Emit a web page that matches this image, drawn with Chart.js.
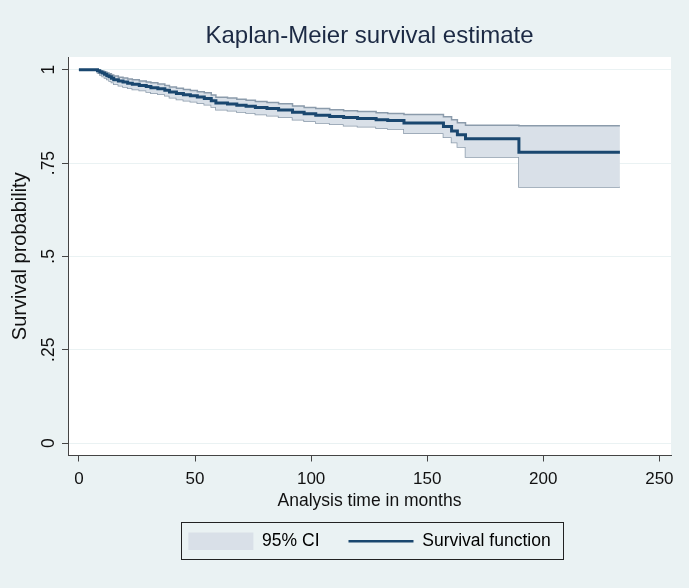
<!DOCTYPE html>
<html>
<head>
<meta charset="utf-8">
<title>Kaplan-Meier survival estimate</title>
<script src="https://cdn.jsdelivr.net/npm/chart.js@4.4.1/dist/chart.umd.min.js"></script>
<style>
  html, body { margin: 0; padding: 0; background: #eaf2f3; }
  canvas { display: block; }
</style>
</head>
<body>
<canvas id="kmChart" width="689" height="588"></canvas>
<script>
// analysis time (months) at each step of the curve
var months = [0, 8, 9, 10, 11, 12, 13, 14, 15, 17, 19, 21, 23, 26, 29, 31, 34, 37, 39,
  42, 45, 48, 51, 54, 57, 59, 64, 68, 72, 76, 81, 86, 92, 97, 102, 108, 114, 120, 128,
  133, 140, 157, 160.5, 163, 166.5, 189.5, 233];

var survival = [1, .997, .994, .991, .988, .984, .981, .977, .973, .970, .967, .964, .961,
  .958, .955, .952, .949, .945, .940, .936, .933, .930, .927, .923, .917, .911, .908, .905,
  .902, .899, .896, .892, .886, .882, .878, .875, .872, .869, .866, .864, .857, .848, .836,
  .826, .815, .779, .779];

var ciLower = [1, .991, .986, .982, .978, .974, .970, .966, .961, .957, .954, .950, .947,
  .944, .940, .937, .934, .930, .925, .920, .917, .914, .910, .906, .900, .893, .890, .887,
  .884, .880, .877, .873, .866, .862, .857, .854, .850, .847, .843, .841, .830, .819, .805,
  .793, .766, .686, .686];

var ciUpper = [1, .999, .997, .996, .994, .991, .989, .986, .983, .980, .978, .975, .973,
  .970, .967, .965, .962, .958, .954, .950, .947, .944, .941, .938, .932, .926, .924, .921,
  .918, .915, .912, .909, .903, .899, .896, .893, .890, .888, .885, .883, .880, .874, .866,
  .858, .851, .850, .850];

var xTicks = [0, 50, 100, 150, 200, 250];
var yTicks = [0, 0.25, 0.5, 0.75, 1];
var yTickLabels = ['0', '.25', '.5', '.75', '1'];
var legendLabels = ['95% CI', 'Survival function'];

var navy = '#1a476f';
var ciFill = '#d9e0e8';
var ciEdge = '#8b9bab';
var ink = '#111111';

function points(values) {
  return months.map(function (t, i) { return { x: t, y: values[i] }; });
}

Chart.defaults.font.family = "'Liberation Sans', Arial, Helvetica, sans-serif";
Chart.defaults.color = ink;

// grey page, white plot region
var backdrop = {
  id: 'backdrop',
  beforeDraw: function (chart) {
    var ctx = chart.ctx, a = chart.chartArea;
    ctx.save();
    ctx.fillStyle = '#eaf2f3';
    ctx.fillRect(0, 0, chart.width, chart.height);
    ctx.fillStyle = '#ffffff';
    ctx.fillRect(a.left, a.top, a.right - a.left, a.bottom - a.top);
    ctx.restore();
  }
};

// stata style box around the legend
var legendFrame = {
  id: 'legendFrame',
  afterDraw: function (chart) {
    var boxes = chart.legend.legendHitBoxes;
    if (!boxes || !boxes.length) return;
    var first = boxes[0], last = boxes[boxes.length - 1];
    var cy = first.top + first.height / 2;
    var ctx = chart.ctx;
    ctx.save();
    ctx.strokeStyle = '#222222';
    ctx.lineWidth = 1;
    ctx.strokeRect(Math.round(first.left - 7) + 0.5, Math.round(cy - 19) + 0.5,
      Math.round(last.left + last.width - first.left + 20), 37);
    ctx.restore();
  }
};

var ctx = document.getElementById('kmChart').getContext('2d');
var chart = new Chart(ctx, {
  type: 'line',
  data: {
    datasets: [{
      label: legendLabels[1],
      data: points(survival),
      stepped: true,
      borderColor: navy,
      borderWidth: 3,
      pointRadius: 0,
      fill: false
    }, {
      label: 'upper',
      data: points(ciUpper),
      stepped: true,
      borderColor: ciEdge,
      borderWidth: 1.5,
      backgroundColor: ciFill,
      pointRadius: 0,
      fill: '+1'
    }, {
      label: 'lower',
      data: points(ciLower),
      stepped: true,
      borderColor: ciEdge,
      borderWidth: 1.5,
      pointRadius: 0,
      fill: false
    }]
  },
  options: {
    responsive: false,
    animation: false,
    layout: { padding: { left: 8, right: 18, top: 0, bottom: 28 } },
    plugins: {
      tooltip: { enabled: false },
      title: {
        display: true,
        fullSize: false,
        text: 'Kaplan-Meier survival estimate',
        color: '#1c2a44',
        font: { size: 24, weight: 'normal' },
        padding: { top: 21.6, bottom: 6.6 }
      },
      legend: {
        position: 'bottom',
        fullSize: false,
        labels: {
          usePointStyle: true,
          pointStyleWidth: 65,
          boxHeight: 20,
          padding: 29,
          color: ink,
          font: { size: 17.5 },
          generateLabels: function () {
            return [{
              text: legendLabels[0],
              pointStyle: 'rect',
              fillStyle: ciFill,
              strokeStyle: ciFill,
              lineWidth: 0,
              datasetIndex: 1
            }, {
              text: legendLabels[1],
              pointStyle: 'line',
              fillStyle: navy,
              strokeStyle: navy,
              lineWidth: 2.5,
              datasetIndex: 0
            }];
          }
        }
      }
    },
    scales: {
      x: {
        type: 'linear',
        min: -4.7,
        max: 255,
        afterBuildTicks: function (scale) {
          scale.ticks = xTicks.map(function (v) { return { value: v }; });
        },
        afterFit: function (scale) { scale.height = 48; },
        ticks: {
          autoSkip: false,
          maxRotation: 0,
          padding: 8,
          color: ink,
          font: { size: 17 }
        },
        grid: {
          drawOnChartArea: false,
          tickLength: 6,
          tickColor: '#444444'
        },
        border: { color: '#444444', width: 1 },
        title: {
          display: true,
          text: 'Analysis time in months',
          color: ink,
          font: { size: 17.5 },
          padding: { top: 0, bottom: -8 }
        }
      },
      y: {
        type: 'linear',
        min: -0.033,
        max: 1.034,
        afterBuildTicks: function (scale) {
          scale.ticks = yTicks.map(function (v) { return { value: v }; });
        },
        afterFit: function (scale) { scale.width = 60; },
        ticks: {
          autoSkip: false,
          minRotation: 90,
          maxRotation: 90,
          crossAlign: 'center',
          padding: 1,
          color: ink,
          font: { size: 17.5 },
          callback: function (value) {
            var i = yTicks.indexOf(value);
            return i >= 0 ? yTickLabels[i] : '';
          }
        },
        grid: {
          color: '#eaf2f3',
          lineWidth: 1,
          tickLength: 6,
          tickColor: '#444444'
        },
        border: { color: '#444444', width: 1 },
        title: {
          display: true,
          text: 'Survival probability',
          color: ink,
          font: { size: 20 },
          padding: { top: 0, bottom: 0 }
        }
      }
    }
  },
  plugins: [backdrop, legendFrame]
});
</script>
</body>
</html>
